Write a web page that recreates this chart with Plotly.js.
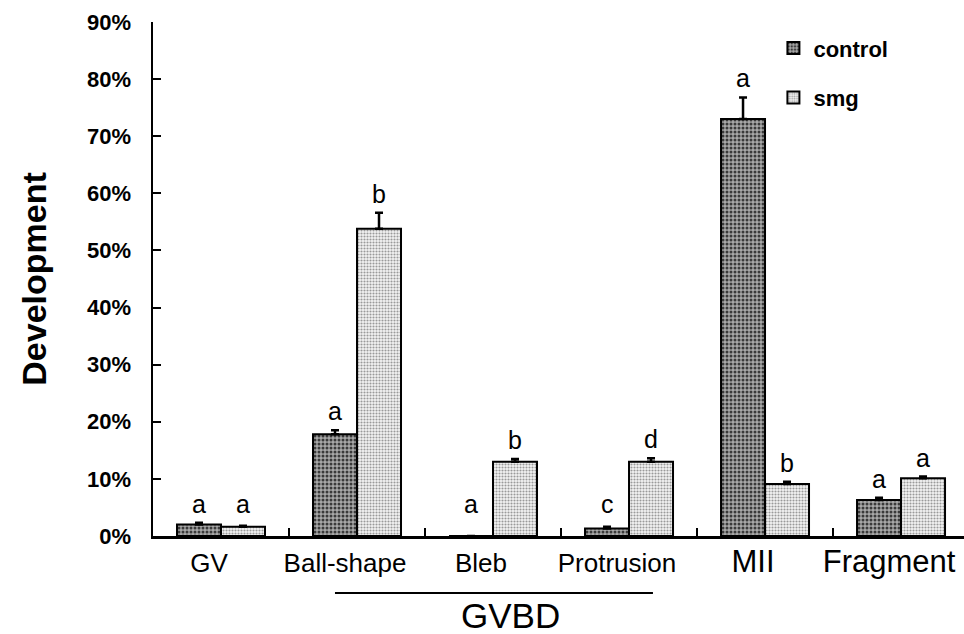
<!DOCTYPE html>
<html>
<head>
<meta charset="utf-8">
<script src="https://cdn.plot.ly/plotly-3.0.1.min.js"></script>
<style>html,body{margin:0;padding:0;background:#fff;}</style>
</head>
<body>
<div id="chart" style="width:964px;height:634px;"></div>
<script>
// ---- data ----
var categories = ["GV", "Ball-shape", "Bleb", "Protrusion", "MII", "Fragment"];
var controlValues = [0.020, 0.178, 0.000, 0.013, 0.730, 0.063];
var controlErrors = [0.003, 0.007, 0.000, 0.003, 0.038, 0.004];
var smgValues = [0.016, 0.538, 0.130, 0.130, 0.091, 0.101];
var smgErrors = [0.002, 0.028, 0.005, 0.006, 0.004, 0.003];
var controlLetters = ["a", "a", "a", "c", "a", "a"];
var smgLetters = ["a", "b", "b", "d", "b", "a"];
var seriesNames = ["control", "smg"];
var yTickVals = [0, 0.1, 0.2, 0.3, 0.4, 0.5, 0.6, 0.7, 0.8, 0.9];
var groupLabel = "GVBD";
var bigLabels = ["MII", "Fragment"];

var FONT = "Liberation Sans, Arial, sans-serif";

var ticktext = categories.map(function (c) {
  return bigLabels.indexOf(c) >= 0 ? '<span style="font-size:31px">' + c + '</span>' : c;
});

var control = {
  type: "bar", name: seriesNames[0], x: categories, y: controlValues,
  legendgroup: "g1",
  marker: {
    color: "#9a9a9a",
    line: {color: "#000", width: 2},
    pattern: {shape: ".", bgcolor: "#a8a8a8", fgcolor: "#3a3a3a", size: 4, solidity: 0.45}
  },
  error_y: {type: "data", array: controlErrors, arrayminus: controlErrors.map(function(){return 0;}),
            symmetric: false, color: "#000", thickness: 2.5, width: 4},
  hoverinfo: "skip"
};
var smg = {
  type: "bar", name: seriesNames[1], x: categories, y: smgValues,
  legendgroup: "g2",
  marker: {
    color: "#e0e0e0",
    line: {color: "#000", width: 2},
    pattern: {shape: ".", bgcolor: "#f4f4f4", fgcolor: "#9a9a9a", size: 3, solidity: 0.4}
  },
  error_y: {type: "data", array: smgErrors, arrayminus: smgErrors.map(function(){return 0;}),
            symmetric: false, color: "#000", thickness: 2.5, width: 4},
  hoverinfo: "skip"
};

var annotations = [];
function addLetters(vals, errs, letters, shift) {
  for (var i = 0; i < categories.length; i++) {
    annotations.push({
      x: categories[i], xref: "x", y: Math.max(vals[i] + errs[i], 0.022), yref: "y",
      xshift: shift, yshift: 3, yanchor: "bottom", showarrow: false,
      text: letters[i], font: {family: FONT, size: 25, color: "#000"}
    });
  }
}
addLetters(controlValues, controlErrors, controlLetters, -22);
addLetters(smgValues, smgErrors, smgLetters, 22);

annotations.push({
  x: 2.13, xref: "x", y: -0.155, yref: "paper", yanchor: "middle",
  showarrow: false, text: groupLabel, font: {family: FONT, size: 35, color: "#000"}
});

var layout = {
  width: 964, height: 634,
  margin: {l: 153, r: 0, t: 22, b: 98},
  paper_bgcolor: "#fff", plot_bgcolor: "#fff",
  barmode: "group", bargap: 0.353, bargroupgap: 0,
  showlegend: true,
  legend: {
    x: 0.765, y: 0.99, xanchor: "left", yanchor: "top",
    font: {family: FONT, size: 22, color: "#000", weight: "bold"},
    tracegroupgap: 18, bgcolor: "rgba(0,0,0,0)"
  },
  xaxis: {
    type: "category", range: [-0.5, 5.463],
    tickmode: "array", tickvals: categories, ticktext: ticktext,
    tickson: "boundaries", ticks: "inside", ticklen: 8, tickwidth: 2, tickcolor: "#000",
    showline: true, linecolor: "#000", linewidth: 2.5,
    showgrid: false, zeroline: false, tickangle: 0,
    ticklabelshift: -12, ticklabelstandoff: 2,
    tickfont: {family: FONT, size: 26, color: "#000"}
  },
  yaxis: {
    range: [0, 0.9], tickvals: yTickVals, tickformat: ".0%",
    ticks: "inside", ticklen: 8, tickwidth: 2, tickcolor: "#000",
    showline: true, linecolor: "#000", linewidth: 2.5,
    showgrid: false, zeroline: false,
    ticklabelstandoff: 15,
    tickfont: {family: FONT, size: 22, color: "#000", weight: "bold"},
    title: {text: "Development", standoff: 30, font: {family: FONT, size: 34, color: "#000", weight: "bold"}}
  },
  shapes: [{
    type: "line", xref: "x", yref: "paper", x0: 0.838, x1: 3.176, y0: -0.111, y1: -0.111,
    line: {color: "#000", width: 2}
  }],
  annotations: annotations
};

Plotly.newPlot("chart", [control, smg], layout, {displayModeBar: false, staticPlot: true});
</script>
</body>
</html>
